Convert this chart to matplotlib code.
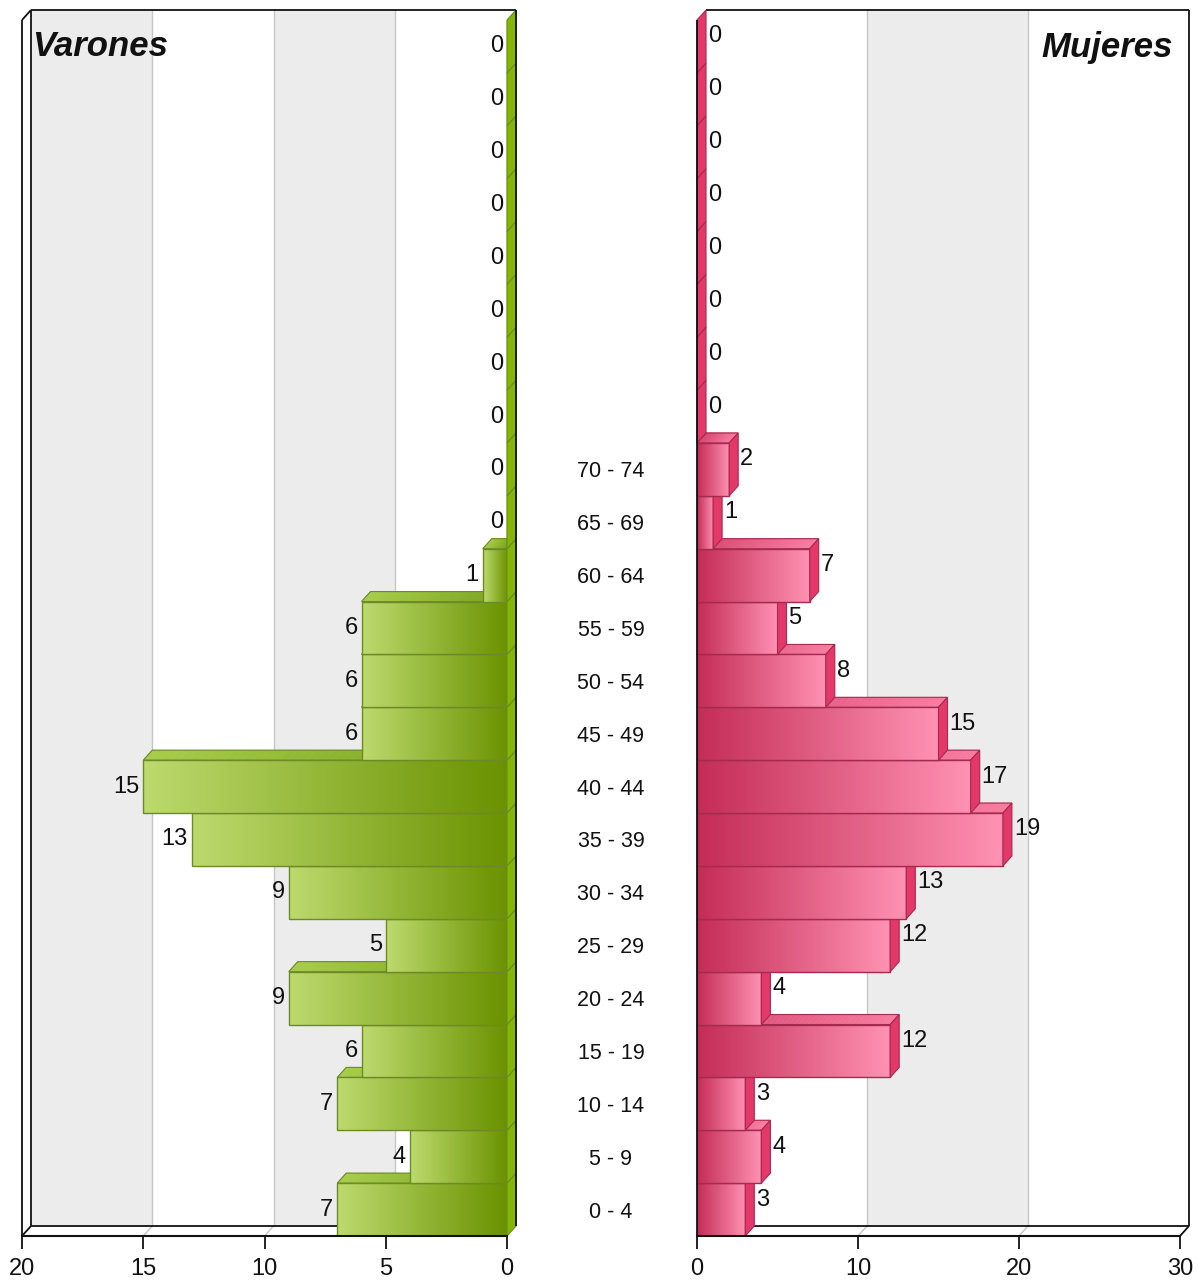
import numpy as np
import matplotlib
matplotlib.use('Agg')
import matplotlib.pyplot as plt
from matplotlib.patches import Polygon
from matplotlib.collections import PolyCollection
from matplotlib.colors import LinearSegmentedColormap

plt.rcParams['font.family'] = ['Liberation Sans Narrow', 'Liberation Sans', 'DejaVu Sans']

# data
age_groups = ['0 - 4', '5 - 9', '10 - 14', '15 - 19', '20 - 24', '25 - 29', '30 - 34',
              '35 - 39', '40 - 44', '45 - 49', '50 - 54', '55 - 59', '60 - 64',
              '65 - 69', '70 - 74', '', '', '', '', '', '', '', '']
varones = [7, 4, 7, 6, 9, 5, 9, 13, 15, 6, 6, 6, 1, 0, 0, 0, 0, 0, 0, 0, 0, 0, 0]
mujeres = [3, 4, 3, 12, 4, 12, 13, 19, 17, 15, 8, 5, 7, 1, 2, 0, 0, 0, 0, 0, 0, 0, 0]
ticks_varones = [20, 15, 10, 5, 0]
ticks_mujeres = [0, 10, 20, 30]

W, H = 1199, 1284
DX, DY = 9, 10  # depth of the 3d effect, pixels

fig = plt.figure(figsize=(W / 100, H / 100), dpi=100)
ax_m = fig.add_axes([22 / W, (H - 1236) / H, 485 / W, 1216 / H])
ax_f = fig.add_axes([697 / W, (H - 1236) / H, 483 / W, 1216 / H])


def top_face(ax, v, yb, sx, sy, cmap, edge_col, z):
    # gradient top of a bar, built from thin slanted strips
    xs = np.linspace(0, v, 41)
    polys = [[(xs[j], yb), (xs[j + 1], yb), (xs[j + 1] + sx, yb + sy), (xs[j] + sx, yb + sy)]
             for j in range(40)]
    cols = cmap(np.linspace(0, 1, 40))
    ax.add_collection(PolyCollection(polys, facecolors=cols, edgecolors=cols, linewidths=0.4,
                                     zorder=z, clip_on=False))
    ax.add_patch(Polygon([(0, yb), (v, yb), (v + sx, yb + sy), (sx, yb + sy)], closed=True,
                         fc='none', ec=edge_col, lw=0.8, zorder=z + 0.001, clip_on=False))


def draw_panel(ax, values, xlim, ticks, stripes, front_cols, top_cols, side_col, edge_col, men):
    n = len(values)
    ax.set_xlim(*xlim)
    ax.set_ylim(-0.5, n - 0.5)
    ax.set_autoscale_on(False)
    pos = ax.get_position()
    sign = np.sign(xlim[1] - xlim[0])
    sx = sign * DX * abs(xlim[1] - xlim[0]) / (pos.width * W)
    sy = DY * n / (pos.height * H)
    x_lo, x_hi = min(xlim), max(xlim)
    y0, y1 = -0.5, n - 0.5

    # back wall stripes + grid
    for a, b in stripes:
        ax.add_patch(Polygon([(a + sx, y0 + sy), (b + sx, y0 + sy), (b + sx, y1 + sy), (a + sx, y1 + sy)],
                             closed=True, fc='#ececec', ec='none', zorder=0.5, clip_on=False))
    for g in ticks:
        if g in (x_lo, x_hi):
            continue
        ax.plot([g + sx, g + sx], [y0 + sy, y1 + sy], color='#c6c6c6', lw=1, zorder=0.6, clip_on=False)
        ax.plot([g, g + sx], [y0, y0 + sy], color='#c6c6c6', lw=1, zorder=0.6, clip_on=False)

    # frame of the back wall
    k = dict(color='#111111', lw=1.3, clip_on=False, solid_capstyle='butt')
    ax.plot([x_lo + sx, x_hi + sx], [y1 + sy, y1 + sy], zorder=0.7, **k)
    ax.plot([x_lo + sx, x_hi + sx], [y0 + sy, y0 + sy], zorder=0.7, **k)
    if men:
        xl = xlim[0]
        ax.plot([xl + sx, xl + sx], [y0 + sy, y1 + sy], zorder=0.7, **k)
        ax.plot([xl, xl], [y0, y1], zorder=0.7, **k)
        ax.plot([xl, xl + sx], [y1, y1 + sy], zorder=0.7, **k)
        ax.plot([xl, xl + sx], [y0, y0 + sy], zorder=0.7, **k)
        ax.plot([sx, sx], [y0 + sy, y1 + sy], zorder=20, **k)
    else:
        xr = xlim[1]
        ax.plot([xr + sx, xr + sx], [y0 + sy, y1 + sy], zorder=0.7, **k)
        ax.plot([xr, xr + sx], [y0, y0 + sy], zorder=0.7, **k)
        ax.plot([0, 0], [y0, y1], zorder=20, **k)

    front_cmap = LinearSegmentedColormap.from_list('f', front_cols)
    top_cmap = LinearSegmentedColormap.from_list('t', top_cols)
    grad = np.linspace(0, 1, 256).reshape(1, -1)

    bars = ax.barh(range(n), values, height=1.0, color='none', edgecolor=edge_col, linewidth=1)
    for i, (rect, v) in enumerate(zip(bars.patches, values)):
        z = 2 + i * 0.05
        rect.set_zorder(z + 0.02)
        if v > 0:
            im = ax.imshow(grad, extent=[0, v, i - 0.5, i + 0.5], aspect='auto', cmap=front_cmap,
                           zorder=z + 0.01, interpolation='bilinear')
            im.set_clip_path(rect)
            top_face(ax, v, i + 0.5, sx, sy, top_cmap, edge_col, z + 0.015)
        xe = 0 if men else v
        ax.add_patch(Polygon([(xe, i - 0.5), (xe, i + 0.5), (xe + sx, i + 0.5 + sy), (xe + sx, i - 0.5 + sy)],
                             closed=True, fc=side_col, ec=edge_col, lw=0.8, zorder=z + 0.03, clip_on=False))
        if men:
            ax.annotate(str(v), (v, i), xytext=(-4, 0), textcoords='offset pixels',
                        ha='right', va='center', fontsize=17, color='#111111', zorder=30)
        else:
            ax.annotate(str(v), (v, i), xytext=(DX + 2, DY), textcoords='offset pixels',
                        ha='left', va='center', fontsize=17, color='#111111', zorder=30)

    ax.set_xlim(*xlim)
    ax.set_ylim(y0, y1)
    for s in ('top', 'left', 'right'):
        ax.spines[s].set_visible(False)
    ax.spines['bottom'].set_color('#111111')
    ax.spines['bottom'].set_linewidth(1.5)
    ax.spines['bottom'].set_zorder(25)
    ax.set_xticks(ticks)
    ax.set_xticklabels([str(t) for t in ticks])
    ax.tick_params(axis='x', length=9, width=1.3, pad=7, labelsize=17, colors='#111111')
    ax.patch.set_visible(False)


draw_panel(ax_m, varones, (20, 0), ticks_varones, [(20, 15), (10, 5)],
           ['#6a9200', '#bdda6e'], ['#78a018', '#a6cc4a'], '#84b600', '#6c8a28', True)
draw_panel(ax_f, mujeres, (0, 30), ticks_mujeres, [(10, 20)],
           ['#c42c56', '#ff92b2'], ['#d6466e', '#f77ca0'], '#e5386a', '#a52a50', False)

ax_m.set_yticks([])
ax_f.set_yticks(range(len(age_groups)))
ax_f.set_yticklabels(age_groups, ha='center', fontsize=15.5, color='#111111')
ax_f.tick_params(axis='y', length=0, pad=62)

fig.text(32 / W, 1 - 47 / H, 'Varones', ha='left', va='center', fontsize=25,
         fontweight='bold', fontstyle='italic', color='#111111')
fig.text(1173 / W, 1 - 47 / H, 'Mujeres', ha='right', va='center', fontsize=25,
         fontweight='bold', fontstyle='italic', color='#111111')

fig.savefig('out.png', dpi=100, facecolor='white')
